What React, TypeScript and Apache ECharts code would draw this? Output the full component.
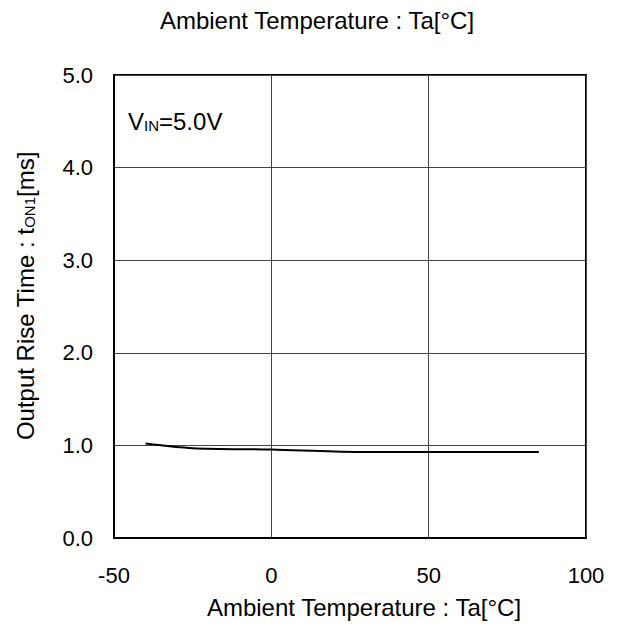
import React, { useEffect, useRef } from "react";
import * as echarts from "echarts";

const temps = [-40, -25, 0, 27, 85];
const riseTime = [1.02, 0.97, 0.955, 0.93, 0.93];
const xTicks = [-50, 0, 50, 100];
const yTicks = [0, 1, 2, 3, 4, 5];

export default function App() {
  const ref = useRef<HTMLDivElement>(null);
  useEffect(() => {
    if (!ref.current) return;
    const chart = echarts.init(ref.current, undefined, { renderer: "svg" });
    const font = "Liberation Sans, Arial, sans-serif";
    const fs = 22;
    const ts = 24;
    const ss = 15;
    chart.setOption({
      animation: false,
      backgroundColor: "#fff",
      textStyle: { fontFamily: font },
      grid: {
        left: 114,
        right: 38,
        top: 75,
        bottom: 88,
        show: true,
        borderColor: "#000",
        borderWidth: 2,
        containLabel: false,
      },
      xAxis: {
        type: "value",
        min: xTicks[0],
        max: xTicks[xTicks.length - 1],
        interval: 50,
        axisLine: { show: true, onZero: false, lineStyle: { color: "#000", width: 2 } },
        axisTick: { show: false },
        axisLabel: { color: "#000", fontSize: fs, margin: 26, fontFamily: font },
        splitLine: { show: true, lineStyle: { color: "#444", width: 1 } },
      },
      yAxis: {
        type: "value",
        min: yTicks[0],
        max: yTicks[yTicks.length - 1],
        interval: 1,
        axisLine: { show: true, onZero: false, lineStyle: { color: "#000", width: 2 } },
        axisTick: { show: false },
        axisLabel: {
          color: "#000",
          fontSize: fs,
          margin: 21,
          fontFamily: font,
          formatter: (v: number) => v.toFixed(1),
        },
        splitLine: { show: true, lineStyle: { color: "#444", width: 1 } },
      },
      graphic: [
        {
          type: "text",
          x: 317,
          y: 20,
          style: {
            text: "Ambient Temperature : Ta[°C]",
            fill: "#000",
            fontSize: ts,
            fontFamily: font,
            textAlign: "center",
            textVerticalAlign: "middle",
          },
        },
        {
          type: "text",
          x: 364,
          y: 607,
          style: {
            text: "Ambient Temperature : Ta[°C]",
            fill: "#000",
            fontSize: ts,
            fontFamily: font,
            textAlign: "center",
            textVerticalAlign: "middle",
          },
        },
        {
          type: "text",
          x: 24,
          y: 296,
          rotation: Math.PI / 2,
          style: {
            text: "{m|Output Rise Time : t}{s|ON1}{m|[ms]}",
            fill: "#000",
            textAlign: "center",
            textVerticalAlign: "middle",
            rich: {
              m: { fontSize: ts, fontFamily: font, fill: "#000", lineHeight: 26, verticalAlign: "bottom" },
              s: { fontSize: ss, fontFamily: font, fill: "#000", lineHeight: 22, verticalAlign: "bottom" },
            },
          },
        },
        {
          type: "text",
          x: 128,
          y: 120,
          style: {
            text: "{m|V}{s|IN}{m|=5.0V}",
            fill: "#000",
            textAlign: "left",
            textVerticalAlign: "middle",
            rich: {
              m: { fontSize: ts, fontFamily: font, fill: "#000", lineHeight: 26, verticalAlign: "bottom" },
              s: { fontSize: ss, fontFamily: font, fill: "#000", lineHeight: 22, verticalAlign: "bottom" },
            },
          },
        },
      ],
      series: [
        {
          type: "line",
          data: temps.map((t, i) => [t, riseTime[i]]),
          showSymbol: false,
          smooth: 0.3,
          lineStyle: { color: "#000", width: 2 },
        },
      ],
    });
    return () => chart.dispose();
  }, []);
  return (
    <div
      ref={ref}
      style={{ position: "fixed", left: 0, top: 0, width: 624, height: 626 }}
    />
  );
}
